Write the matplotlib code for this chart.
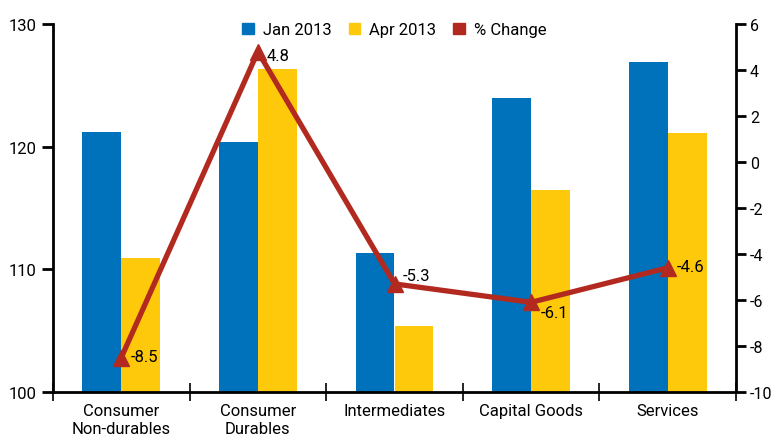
import matplotlib.pyplot as plt
from matplotlib.patches import Patch
import numpy as np

categories = ["Consumer\nNon-durables", "Consumer\nDurables", "Intermediates", "Capital Goods", "Services"]
jan_2013 = [121.2, 120.4, 111.3, 124.0, 126.9]
apr_2013 = [110.9, 126.3, 105.4, 116.5, 121.1]
pct_change = [-8.5, 4.8, -5.3, -6.1, -4.6]
# label offsets in pixels (dx, dy) for the % change annotations
label_offsets = [(9, 1), (9, -4), (8, 8), (10, -10), (9, 1)]

BLUE = "#0071BB"
YELLOW = "#FFC90B"
RED = "#B22A1F"

plt.rcParams['font.family'] = ['Roboto', 'DejaVu Sans']
plt.rcParams['font.size'] = 12
plt.rcParams['axes.unicode_minus'] = False

fig = plt.figure(figsize=(7.75, 4.35), dpi=100)
ax = fig.add_axes([53/775, 1 - 393/435, (736 - 53)/775, (393 - 25)/435])

x = np.arange(len(categories))
w = 0.285
ax.bar(x - w/2, jan_2013, w, color=BLUE, zorder=2)
ax.bar(x + w/2, apr_2013, w, color=YELLOW, zorder=2)

ax.set_xlim(-0.5, len(categories) - 0.5)
ax.set_ylim(100, 130)
ax.set_yticks([100, 110, 120, 130])
ax.set_xticks(x)
ax.set_xticklabels(categories, linespacing=1.25)
ax.set_xticks(np.arange(-0.5, len(categories)), minor=True)
ax.tick_params(axis='x', which='major', length=0, pad=8)
ax.tick_params(axis='x', which='minor', length=13, width=1.2, direction='inout')
ax.tick_params(axis='y', length=8, width=2, pad=4, direction='out')

for side in ['top', 'right']:
    ax.spines[side].set_visible(False)
for side in ['left', 'bottom']:
    ax.spines[side].set_linewidth(2)
ax.spines['bottom'].set_zorder(5)

ax2 = ax.twinx()
ax2.set_ylim(-10, 6)
ax2.set_yticks(np.arange(-10, 7, 2))
ax2.tick_params(axis='y', length=7, width=2, pad=3, direction='out', labelsize=11.5)
for side in ['top', 'left', 'bottom']:
    ax2.spines[side].set_visible(False)
ax2.spines['right'].set_linewidth(2)

ax2.plot(x, pct_change, color=RED, linewidth=3.8, marker='^', markersize=12,
         solid_capstyle='butt', zorder=3)
for xi, v, (dx, dy) in zip(x, pct_change, label_offsets):
    ax2.annotate(f"{v:.1f}", (xi, v), xytext=(dx * 0.72, dy * 0.72),
                 textcoords='offset points', ha='left', va='center', fontsize=12)

handles = [Patch(color=BLUE), Patch(color=YELLOW), Patch(color=RED)]
ax2.legend(handles, ["Jan 2013", "Apr 2013", "% Change"], loc='upper center',
           bbox_to_anchor=(0.5, 1.045), ncol=3, frameon=False, handlelength=0.7,
           handleheight=0.7, handletextpad=0.55, columnspacing=1.0, fontsize=12)

fig.savefig("out.png", dpi=100)
